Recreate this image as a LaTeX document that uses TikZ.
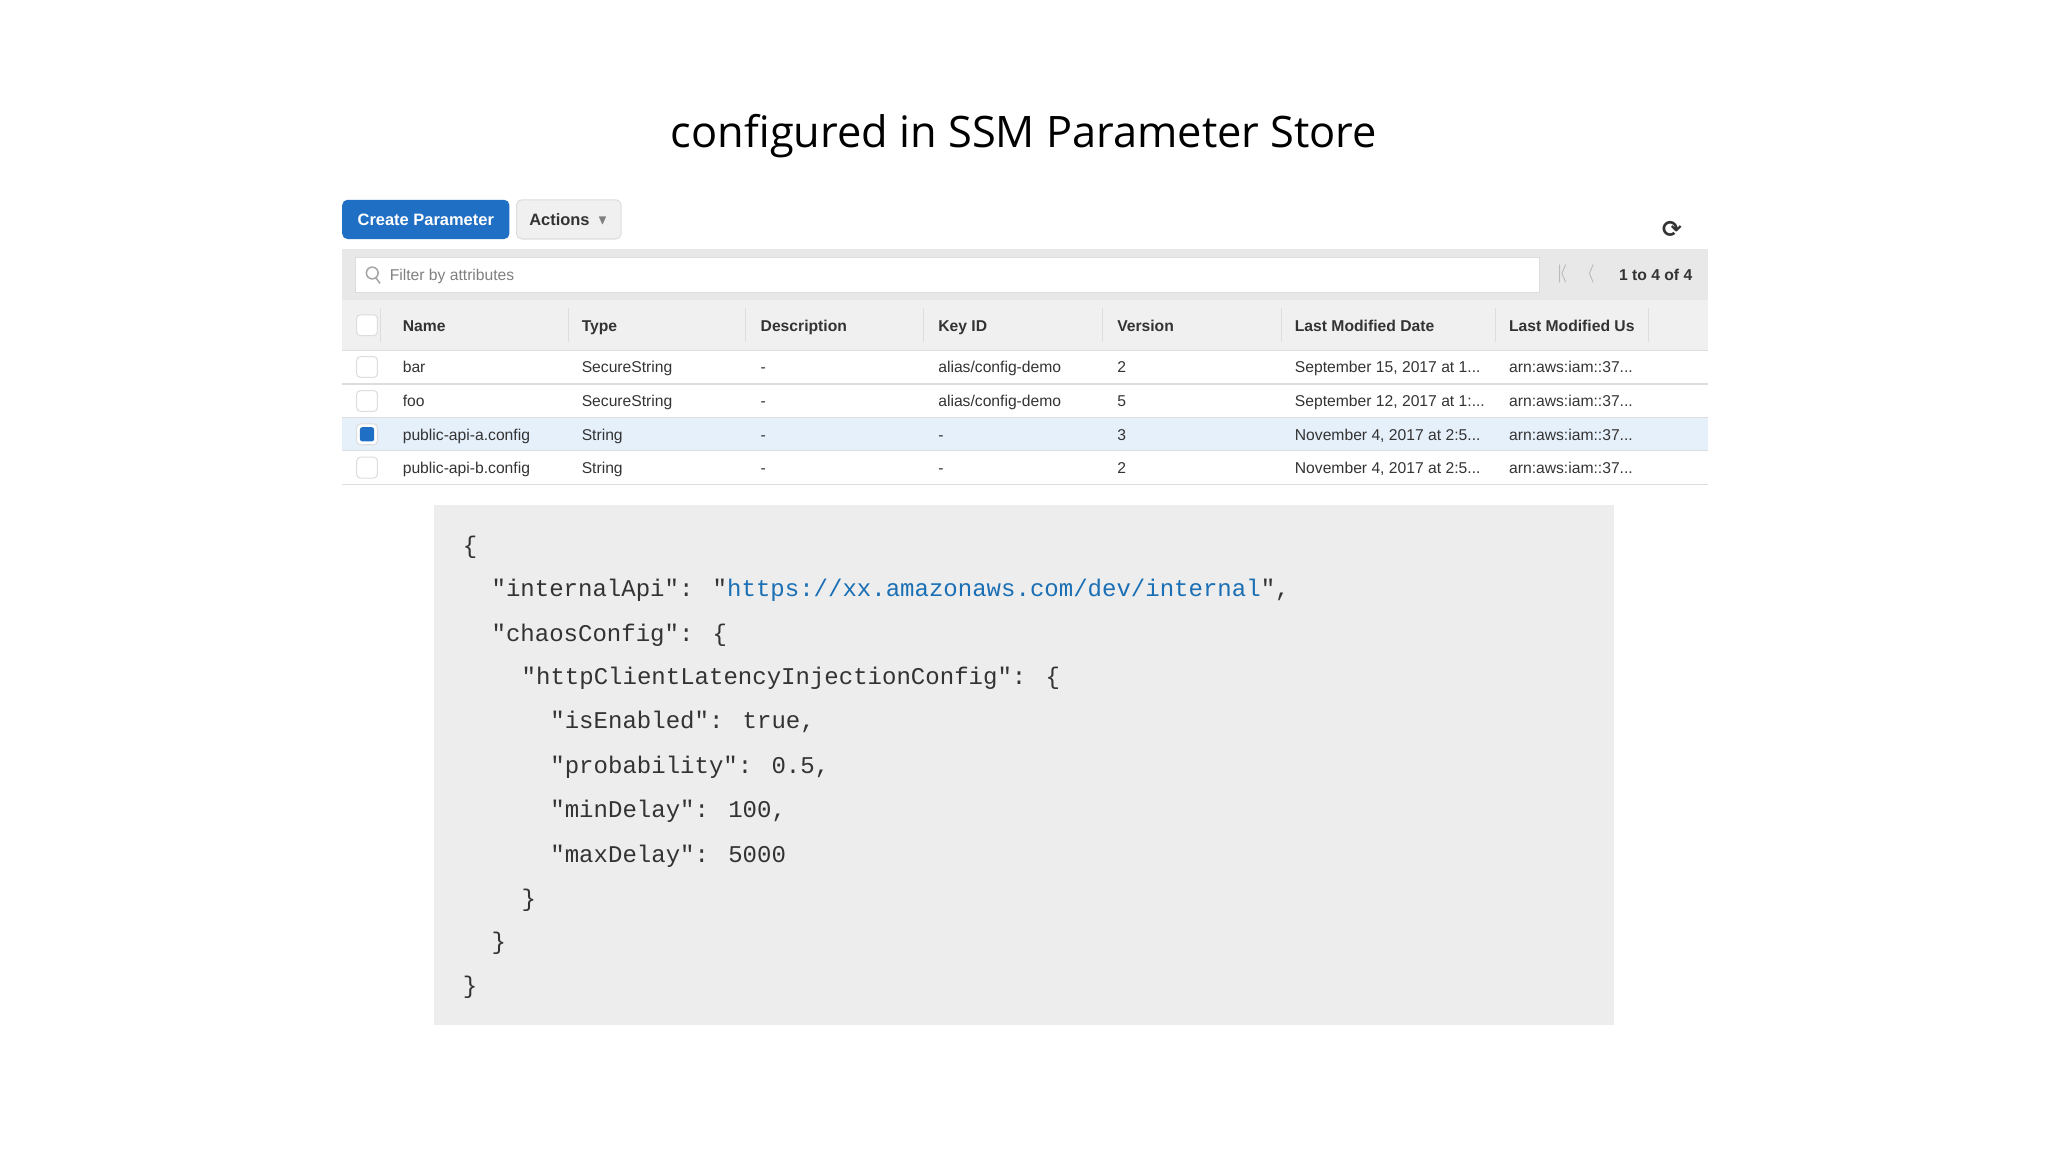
\documentclass[tikz,border=0pt]{standalone}
\usepackage{amssymb}
\usepackage{fontspec}
\setmainfont{Liberation Sans}
\newfontfamily\titlefont{Open Sans}
\newfontfamily\codefont{Liberation Mono}
\newfontfamily\symfont{DejaVu Sans}
\newcommand\myellip{...}
\definecolor{awsblue}{HTML}{1F6FC5}
\definecolor{band}{HTML}{E8E8E8}
\definecolor{hdr}{HTML}{F0F0F0}
\definecolor{sel}{HTML}{E6F0FB}
\definecolor{codebg}{HTML}{EDEDED}
\definecolor{link}{HTML}{1A6FB5}
\definecolor{txt}{HTML}{333333}
\definecolor{rule}{HTML}{DDDDDD}
\tikzset{
  cell/.style={anchor=base west,inner sep=0pt,font=\fontsize{6}{7}\selectfont,text=txt,yshift=-4.5pt*0.5},
  hcell/.style={anchor=base west,inner sep=0pt,font=\fontsize{6}{7}\selectfont\bfseries,text=txt,yshift=-4.5pt*0.5},
  code/.style={anchor=base west,inner sep=0pt,font=\codefont\fontsize{9.2}{11}\selectfont,text=txt,yshift=-6pt*0.5},
  cbox/.style={draw=rule,fill=white,rounded corners=1.5pt,minimum size=8pt,inner sep=0pt}
}
\begin{document}
\begin{tikzpicture}[x=0.5pt,y=-0.5pt]
\useasboundingbox (0,0) rectangle (1568,882);
\node[font=\titlefont\fontsize{16.6}{20}\selectfont] (title) at (784,104) {configured in SSM Parameter Store};
% buttons
\node[fill=awsblue,rounded corners=2pt,minimum width=64pt,minimum height=15pt,inner sep=0pt,text=white,font=\fontsize{6.3}{8}\selectfont\bfseries] (create) at (326,168) {Create Parameter};
\node[fill=hdr,draw=rule,rounded corners=2pt,minimum width=40pt,minimum height=15pt,inner sep=0pt,text=txt,font=\fontsize{6.3}{8}\selectfont\bfseries] (actions) at (435.5,168) {Actions \,\textcolor{gray}{\raisebox{0.5pt}{\tiny$\blacktriangledown$}}};
\node[font=\symfont\fontsize{9}{10}\selectfont\bfseries,text=txt] (refresh) at (1280,176) {⟳};
% band
\fill[band] (262,191) rectangle (1308,230);
\node[draw=rule,fill=white,minimum width=453pt,minimum height=13.5pt,inner sep=0pt,anchor=west] (filter) at (272,210.5) {};
\draw[gray!70,line width=0.6pt] (285,209) circle (4.5) (288,213) -- (291,217);
\node[cell,text=gray] (ftext) at (298,210) {Filter by attributes};
\node[font=\fontsize{7}{8}\selectfont,text=gray!60] (first) at (1196,210) {$|\!\langle$};
\node[font=\fontsize{7}{8}\selectfont,text=gray!60] (prev) at (1218,210) {$\langle$};
\node[hcell,anchor=base east] (pages) at (1296,210) {1 to 4 of 4};
% header
\fill[hdr] (262,230) rectangle (1308,268);
\foreach \x in {291,435,571,707,844,981,1145,1262} \draw[rule] (\x,236) -- (\x,262);
\node[cbox] (hcb) at (281,249) {};
\foreach \x/\t in {308/Name,445/Type,582/Description,718/Key ID,855/Version,991/Last Modified Date,1155/Last Modified Us}
  \node[hcell] at (\x,249) {\t};
% rows
\fill[sel] (262,320) rectangle (1308,345);
\foreach \y in {268,294,320,345,371} \draw[rule] (262,\y) -- (1308,\y);
\foreach \y/\a/\b/\c/\d/\e/\f/\g in {
  281/bar/SecureString/-/alias\slash config-demo/2/{September 15, 2017 at 1\myellip}/arn:aws:iam::37\myellip,
  307/foo/SecureString/-/alias\slash config-demo/5/{September 12, 2017 at 1:\myellip}/arn:aws:iam::37\myellip,
  332.5/public-api-a.config/String/-/-/3/{November 4, 2017 at 2:5\myellip}/arn:aws:iam::37\myellip,
  358/public-api-b.config/String/-/-/2/{November 4, 2017 at 2:5\myellip}/arn:aws:iam::37\myellip}{
  \node[cbox] at (281,\y) {};
  \node[cell] at (308,\y) {\a};
  \node[cell] at (445,\y) {\b};
  \node[cell] at (582,\y) {\c};
  \node[cell] at (718,\y) {\d};
  \node[cell] at (855,\y) {\e};
  \node[cell] at (991,\y) {\f};
  \node[cell] at (1155,\y) {\g};
}
\node[fill=awsblue,rounded corners=1pt,minimum size=5.5pt,inner sep=0pt] (selbox) at (281,332.5) {};
% code
\fill[codebg] (332,387) rectangle (1236,785);
\node[code] at (354,418) {\{};
\node[code] at (376,451) {"internalApi": "\textcolor{link}{https://xx.amazonaws.com/dev/internal}",};
\node[code] at (376,485) {"chaosConfig": \{};
\node[code] at (399,518) {"httpClientLatencyInjectionConfig": \{};
\node[code] at (421,552) {"isEnabled": true,};
\node[code] at (421,586) {"probability": 0.5,};
\node[code] at (421,620) {"minDelay": 100,};
\node[code] at (421,654) {"maxDelay": 5000};
\node[code] at (399,688) {\}};
\node[code] at (376,721) {\}};
\node[code] at (354,755) {\}};
\end{tikzpicture}
\end{document}
